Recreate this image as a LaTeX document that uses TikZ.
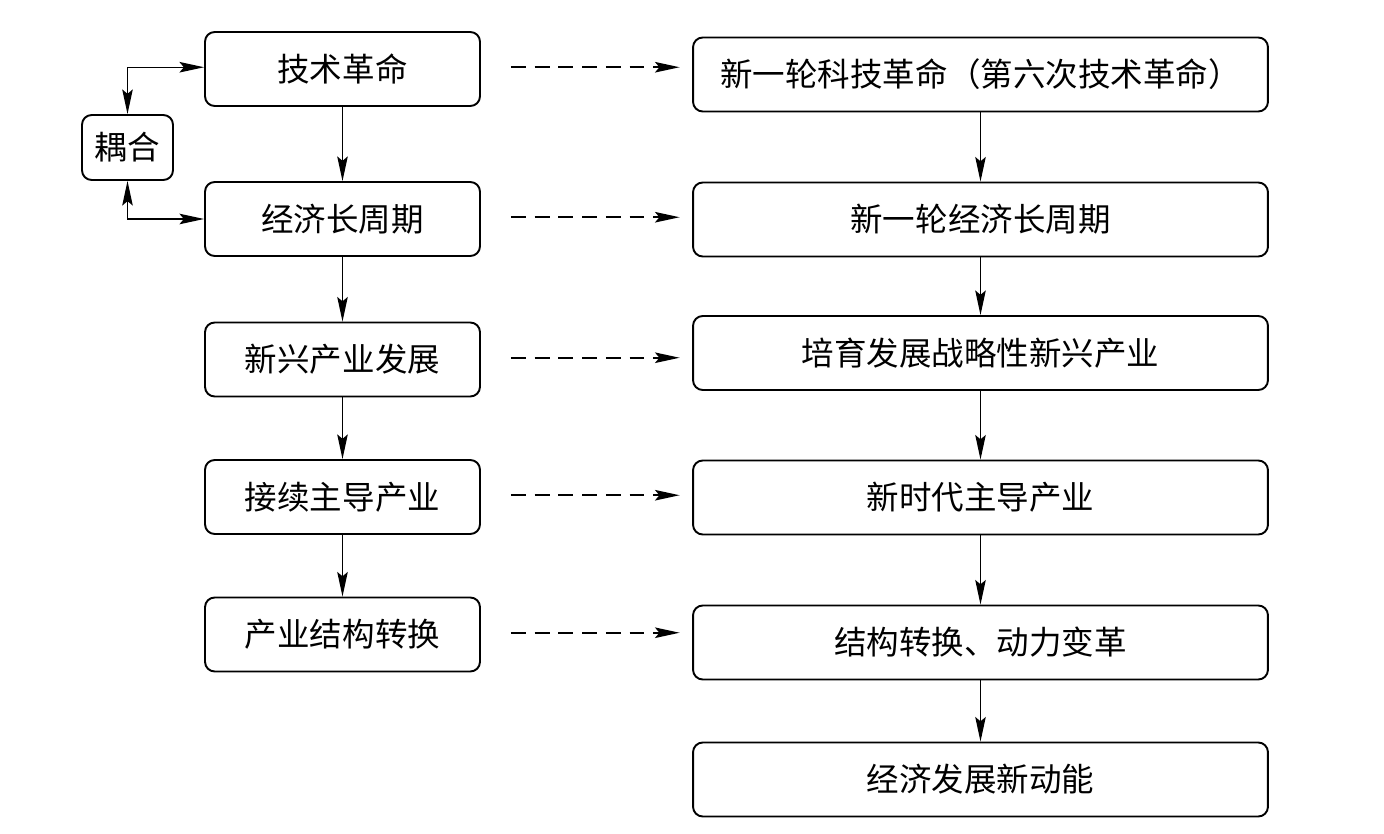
\documentclass[tikz,border=0pt]{standalone}
\usepackage{fontspec}
\setmainfont{Noto Sans CJK SC}
\usetikzlibrary{arrows.meta,positioning}

\begin{document}
\begin{tikzpicture}[x=0.02cm,y=-0.02cm,
  box/.style={draw,line width=1.1pt,rounded corners=5.5pt,minimum height=1.48cm,
    font=\fontsize{18.5}{22}\selectfont,inner sep=0pt},
  lbox/.style={box,minimum width=5.5cm},
  rbox/.style={box,minimum width=11.5cm},
  flowtip/.tip={Stealth[length=14pt,width=6pt,inset=2.5pt]},
  arr/.style={line width=0.7pt,-flowtip},
  dasharr/.style={arr,line width=0.9pt,dash pattern=on 8.5pt off 5pt}]
\useasboundingbox (0,0) rectangle (1384,834);
% left column
\node[lbox] (tech) at (342.5,69) {技术革命};
\node[lbox] (cycle) at (342.5,219) {经济长周期};
\node[lbox] (emerg) at (342.5,359.5) {新兴产业发展};
\node[lbox] (lead) at (342.5,497) {接续主导产业};
\node[lbox] (struct) at (342.5,634.5) {产业结构转换};
% coupling
\node[box,minimum width=1.82cm,minimum height=1.3cm] (couple) at (127.5,147.5) {耦合};
% right column
\node[rbox] (newtech) at (980.5,74.5) {新一轮科技革命（第六次技术革命）};
\node[rbox] (newcycle) at (980.5,219.5) {新一轮经济长周期};
\node[rbox] (newind) at (980.5,353) {培育发展战略性新兴产业};
\node[rbox] (newlead) at (980.5,497.5) {新时代主导产业};
\node[rbox] (newstruct) at (980.5,642.5) {结构转换、动力变革};
\node[rbox] (energy) at (980.5,779.5) {经济发展新动能};

\draw[arr] (tech) -- (cycle);
\draw[arr] (cycle) -- (emerg);
\draw[arr] (emerg) -- (lead);
\draw[arr] (lead) -- (struct);
\draw[arr] (newtech) -- (newcycle);
\draw[arr] (newcycle) -- (newind);
\draw[arr] (newind) -- (newlead);
\draw[arr] (newlead) -- (newstruct);
\draw[arr] (newstruct) -- (energy);

\draw[arr,flowtip-flowtip] (couple.north) |- ([yshift=1pt]tech.west);
\draw[arr,flowtip-flowtip] (couple.south) |- (cycle.west);

\foreach \a/\b in {tech/newtech,cycle/newcycle,emerg/newind,lead/newlead,struct/newstruct}
  \draw[dasharr] ([xshift=0.6cm,yshift=1pt]\a.east) -- ([xshift=-0.25cm,yshift=1pt]\a.east -| \b.west);
\end{tikzpicture}
\end{document}
